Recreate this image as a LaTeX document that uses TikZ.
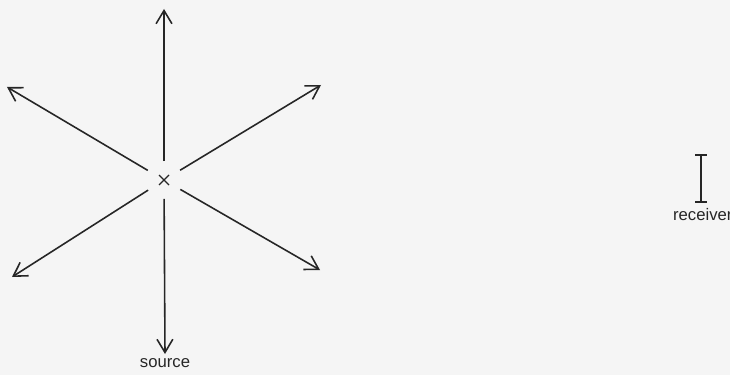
\documentclass[tikz,border=0pt]{standalone}
\usepackage{fontspec}
\setsansfont{Liberation Sans}
\usepackage{tikz}
\usetikzlibrary{arrows.meta,positioning,calc}
\tikzset{
  ray/.style={-{Straight Barb[length=7.5pt, width=9pt, line width=0.9pt]}, line width=0.9pt, draw=black!85},
  centre/.style={circle, inner sep=0pt, minimum size=0.74cm},
  lbl/.style={font=\fontsize{9.5}{11}\selectfont\sffamily, text=black!85, inner sep=1pt},
}
\begin{document}
\begin{tikzpicture}[x=0.02cm, y=-0.02cm]
  % page
  \fill[gray!8] (0,0) rectangle (730,375);
  \useasboundingbox (0,0) rectangle (730,375);
  % source point
  \node[centre] (src) at (164,180) {};
  \draw[line width=0.75pt, black!85] ($(src.center)+(-5,-5)$) -- ($(src.center)+(5,5)$)
    ($(src.center)+(-5,5)$) -- ($(src.center)+(5,-5)$);
  % ray ends
  \coordinate (n)  at (164,9);
  \coordinate (nw) at (7,87);
  \coordinate (ne) at (321,85);
  \coordinate (sw) at (12,277);
  \coordinate (se) at (320,270);
  \coordinate (s)  at (165,354);
  \foreach \e in {n,nw,ne,sw,se,s}
    \draw[ray] (src) -- (\e);
  % receiver
  \coordinate (rtop) at (701,155);
  \coordinate (rbot) at (701,202);
  \draw[line width=0.9pt, black!85] (rtop) -- (rbot)
    ($(rtop)+(-6,0)$) -- ($(rtop)+(6,0)$)
    ($(rbot)+(-6,0)$) -- ($(rbot)+(6,0)$);
  % labels
  \node[lbl] (srclbl) at (165,363) {source};
  \node[lbl, below=2.5pt of rbot, xshift=1pt] (rcvlbl) {receiver};
\end{tikzpicture}
\end{document}
